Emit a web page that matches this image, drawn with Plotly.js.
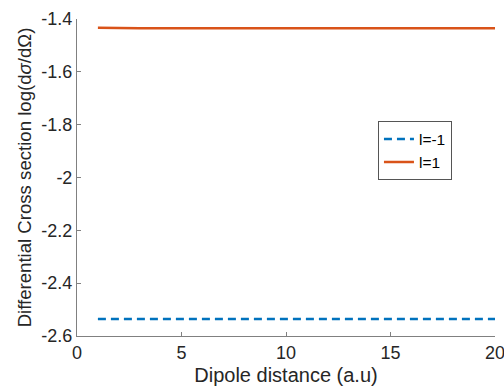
<!DOCTYPE html>
<html><head><meta charset="utf-8">
<script src="https://cdn.plot.ly/plotly-3.0.1.min.js"></script>
<style>html,body{margin:0;padding:0;background:#fff}</style>
</head><body>
<div id="chart" style="width:504px;height:392px"></div>
<script>
const distance = [1,2,3,4,5,6,7,8,9,10,11,12,13,14,15,16,17,18,19,20];
const lMinus1 = [-2.536,-2.536,-2.536,-2.536,-2.536,-2.536,-2.536,-2.536,-2.536,-2.536,-2.536,-2.536,-2.536,-2.536,-2.536,-2.536,-2.536,-2.536,-2.536,-2.536];
const lPlus1 = [-1.433,-1.435,-1.435,-1.435,-1.435,-1.435,-1.435,-1.435,-1.435,-1.435,-1.435,-1.435,-1.435,-1.435,-1.435,-1.435,-1.435,-1.435,-1.435,-1.435];
const seriesNames = ['l=-1','l=1'];
const xTicks = [0,5,10,15,20];
const yTicks = [-2.6,-2.4,-2.2,-2,-1.8,-1.6,-1.4];

const font = {family:'Liberation Sans, Arial, sans-serif', color:'#262626'};
const traces = [
  {x:distance, y:lMinus1, name:seriesNames[0], mode:'lines', line:{color:'#0072BD', width:2.5, dash:'8px,5px'}},
  {x:distance, y:lPlus1, name:seriesNames[1], mode:'lines', line:{color:'#D95319', width:2.5}}
];
const axisCommon = {showgrid:false, zeroline:false, showline:true, linecolor:'#808080', linewidth:1,
  ticks:'inside', ticklen:4, tickcolor:'#808080', tickfont:{...font, size:18}, mirror:false,
  ticklabeloverflow:'allow'};
const layout = {
  width:504, height:392,
  margin:{l:77, r:9, t:19, b:56},
  paper_bgcolor:'#fff', plot_bgcolor:'#fff',
  font:font,
  showlegend:true,
  legend:{x:0.72, y:0.677, xanchor:'left', yanchor:'top', bordercolor:'#555', borderwidth:1, bgcolor:'#fff',
    font:{...font, size:15.5, color:'#000'}, tracegroupgap:0, itemwidth:30},
  xaxis:{...axisCommon, range:[0,20], tickvals:xTicks, ticktext:xTicks.map(String),
    title:{text:'Dipole distance (a.u)', font:{...font, size:20}, standoff:6}},
  yaxis:{...axisCommon, range:[-2.6,-1.4], tickvals:yTicks, ticktext:yTicks.map(v=>String(v)),
    title:{text:'Differential Cross section log(d<i>σ</i>/dΩ)', font:{...font, size:18.6}, standoff:4}}
};
Plotly.newPlot('chart', traces, layout, {displayModeBar:false, staticPlot:true});
</script>
</body></html>
